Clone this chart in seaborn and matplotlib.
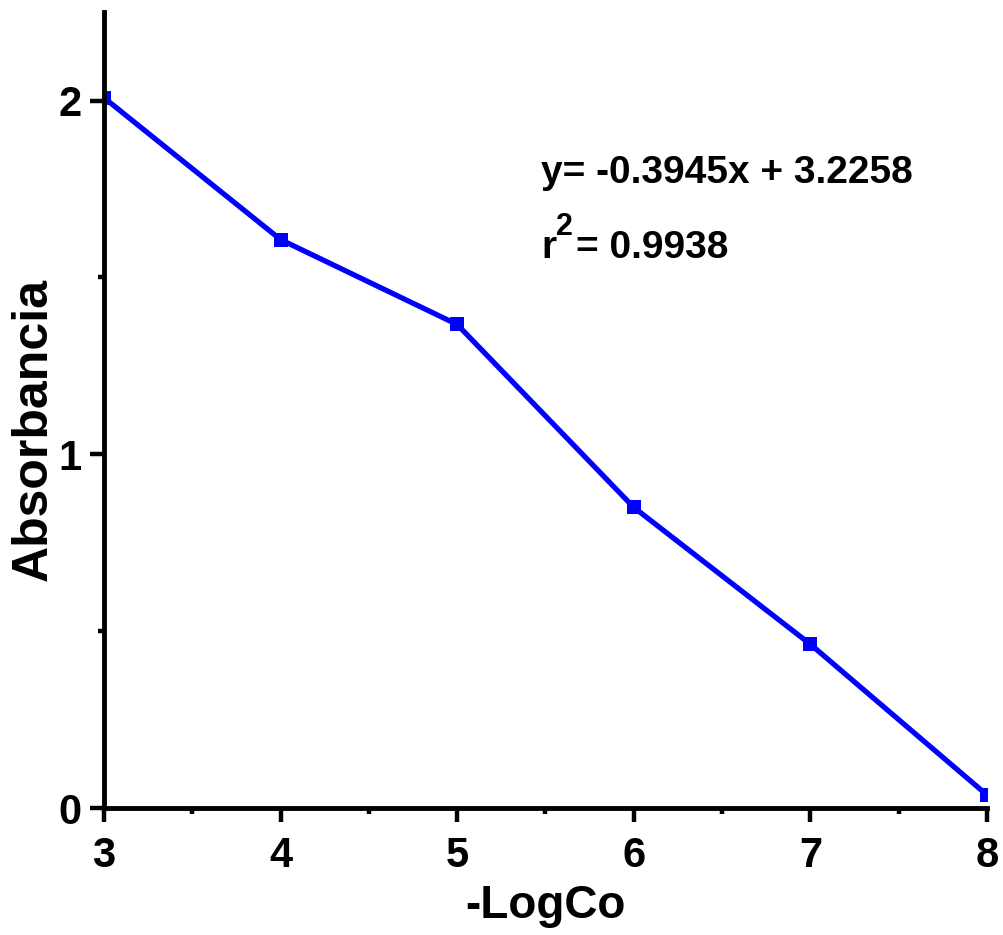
import matplotlib
matplotlib.use("Agg")
import matplotlib.pyplot as plt
import seaborn as sns
import pandas as pd
from matplotlib.ticker import MultipleLocator

neg_log_c = [3, 4, 5, 6, 7, 8]
absorbance = [2.008, 1.607, 1.367, 0.850, 0.463, 0.037]
equation_text = "y= -0.3945x + 3.2258"
r2_base = "r"
r2_exp = "2"
r2_value = "= 0.9938"

sns.set_style("ticks")
plt.rcParams["font.family"] = ["Liberation Sans", "DejaVu Sans"]
plt.rcParams["font.weight"] = "bold"
plt.rcParams["text.color"] = "black"
plt.rcParams["axes.labelcolor"] = "black"
plt.rcParams["axes.edgecolor"] = "black"
plt.rcParams["xtick.color"] = "black"
plt.rcParams["ytick.color"] = "black"

df = pd.DataFrame({"x": neg_log_c, "y": absorbance})

fig = plt.figure(figsize=(10.04, 9.35), dpi=100)
ax = fig.add_axes([0.1036, 0.1358, 0.983 - 0.1036, 0.987 - 0.1358])

sns.lineplot(data=df, x="x", y="y", ax=ax, color="#0000ff", linewidth=3.8,
             marker="s", markersize=10, markeredgewidth=0, clip_on=True)

ax.set_xlim(3, 8)
ax.set_ylim(0, 2.25)
ax.xaxis.set_major_locator(MultipleLocator(1))
ax.xaxis.set_minor_locator(MultipleLocator(0.5))
ax.yaxis.set_major_locator(MultipleLocator(1))
ax.yaxis.set_minor_locator(MultipleLocator(0.5))

for side in ["top", "right"]:
    ax.spines[side].set_visible(False)
for side in ["left", "bottom"]:
    ax.spines[side].set_linewidth(3.5)
    ax.spines[side].set_color("black")

ax.tick_params(which="major", length=10, width=3.2, direction="out", labelsize=30, colors="black")
ax.tick_params(which="minor", length=4.5, width=3.2, direction="out", colors="black")
ax.tick_params(axis="x", which="major", pad=10)
ax.tick_params(axis="y", which="major", pad=6)
for lab in ax.get_xticklabels() + ax.get_yticklabels():
    lab.set_fontweight("bold")

ax.set_xlabel("-LogCo", fontsize=33, fontweight="bold")
ax.xaxis.label.set_va("baseline")
ax.xaxis.set_label_coords(0.5, -0.1385)
ax.set_ylabel("Absorbancia", fontsize=36, fontweight="bold")
ax.yaxis.set_label_coords(-0.054, 0.475)

# regression annotation
ax.text(5.475, 1.766, equation_text, fontsize=28, fontweight="bold", va="baseline", ha="left")
ax.text(5.475, 1.556, r2_base, fontsize=28, fontweight="bold", va="baseline", ha="left")
ax.annotate(r2_exp, xy=(5.475, 1.556), xytext=(15, 23), textcoords="offset pixels",
            fontsize=22, fontweight="bold", va="baseline", ha="left")
ax.annotate(r2_value, xy=(5.475, 1.556), xytext=(35, 0), textcoords="offset pixels",
            fontsize=28, fontweight="bold", va="baseline", ha="left")

fig.savefig("out.png", dpi=100)
